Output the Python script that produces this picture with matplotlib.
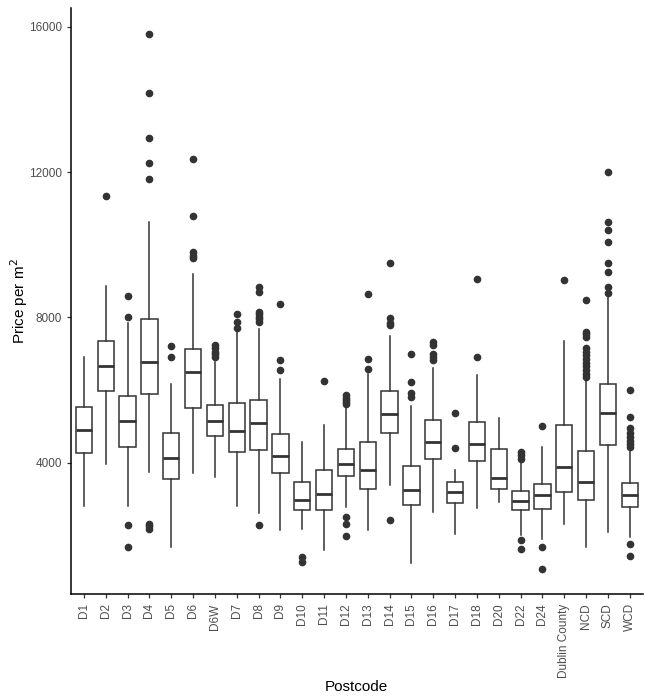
import matplotlib
matplotlib.use("Agg")
import matplotlib.pyplot as plt

plt.rcParams['font.family'] = ['Liberation Sans', 'DejaVu Sans']

postcodes = ["D1", "D2", "D3", "D4", "D5", "D6", "D6W", "D7", "D8", "D9",
             "D10", "D11", "D12", "D13", "D14", "D15", "D16", "D17", "D18",
             "D20", "D22", "D24", "Dublin County", "NCD", "SCD", "WCD"]

# box stats (price per m2)
whis_lo = [2790, 3950, 2800, 3740, 1670, 3710, 3590, 2800, 2620, 2130,
           2170, 1600, 2780, 2150, 3370, 1230, 2650, 2040, 2760,
           2920, 2010, 1900, 2320, 1670, 2090, 1950]
q1 = [4265, 5967, 4431, 5893, 3539, 5506, 4734, 4284, 4359, 3713,
      2684, 2684, 3641, 3283, 4800, 2830, 4100, 2877, 4044,
      3283, 2692, 2712, 3190, 2960, 4486, 2775]
med = [4891, 6657, 5131, 6767, 4127, 6491, 5131, 4863, 5076, 4182,
       2968, 3145, 3972, 3807, 5341, 3236, 4552, 3200, 4505,
       3586, 2952, 3098, 3890, 3457, 5352, 3098]
q3 = [5517, 7355, 5837, 7945, 4800, 7125, 5589, 5636, 5719, 4789,
      3476, 3788, 4375, 4569, 5976, 3917, 5167, 3457, 5112,
      4367, 3228, 3420, 5038, 4320, 6152, 3437]
whis_hi = [6913, 8872, 7834, 10621, 6152, 9195, 6767, 7603, 7669, 6298,
           4579, 5038, 5490, 6436, 7484, 5553, 6593, 3807, 6408,
           5214, 4044, 4431, 7355, 6345, 8616, 4386]
outliers = [
    [],
    [11355],
    [8588, 8017, 2270, 1663],
    [15815, 14188, 12927, 12257, 11815, 2320, 2250, 2170],
    [7208, 6913],
    [12358, 10795, 9800, 9700, 9630],
    [7250, 7150, 7050, 6980, 6920],
    [8091, 7879, 7696],
    [8844, 8706, 8150, 8080, 8017, 7950, 7880, 2270],
    [8367, 6813, 6538],
    [1396, 1258],
    [6243],
    [5850, 5780, 5720, 5660, 5620, 2500, 2298, 1986],
    [8643, 6841, 6574],
    [9510, 7970, 7850, 7790, 2427],
    [6979, 6224, 5903, 5810],
    [7330, 7250, 7000, 6900, 6830],
    [5360, 4403],
    [9062, 6896],
    [],
    [4300, 4200, 4100, 1857, 1628],
    [5001, 1672, 1076],
    [9029],
    [8477, 7603, 7530, 7465, 7145, 7050, 6950, 6850, 6750, 6650, 6550, 6450, 6361],
    [12000, 10638, 10400, 10077, 9490, 9241, 8828, 8679],
    [5995, 5241, 4938, 4800, 4700, 4600, 4500, 4431, 1746, 1415],
]

stats = []
for i, name in enumerate(postcodes):
    stats.append(dict(label=name, whislo=whis_lo[i], q1=q1[i], med=med[i],
                      q3=q3[i], whishi=whis_hi[i], fliers=outliers[i]))

fig = plt.figure(figsize=(6.5, 7), dpi=100)
ax = fig.add_axes([0.109, 0.151, 0.880, 0.838])

line_col = '#333333'
ax.bxp(stats, positions=range(1, len(postcodes) + 1), widths=0.75,
       patch_artist=True, showcaps=False,
       boxprops=dict(facecolor='white', edgecolor=line_col, linewidth=1.1),
       whiskerprops=dict(color=line_col, linewidth=1.1),
       medianprops=dict(color=line_col, linewidth=2.0),
       flierprops=dict(marker='o', markerfacecolor=line_col,
                       markeredgecolor=line_col, markersize=4.5))

ax.set_xlim(0.4, len(postcodes) + 0.6)
ax.set_ylim(370, 16530)
ax.set_yticks([4000, 8000, 12000, 16000])
ax.set_xticks(range(1, len(postcodes) + 1))
ax.set_xticklabels(postcodes, rotation=90)

for side in ['top', 'right']:
    ax.spines[side].set_visible(False)
for side in ['left', 'bottom']:
    ax.spines[side].set_linewidth(1.1)
ax.tick_params(axis='both', labelsize=8.5, labelcolor='#4d4d4d',
               length=3, width=0.9, color='#333333')

ax.set_xlabel("Postcode", fontsize=11, labelpad=2)
ax.set_ylabel("Price per m$^2$", fontsize=11, labelpad=-1)

fig.savefig("out.png", dpi=100)
